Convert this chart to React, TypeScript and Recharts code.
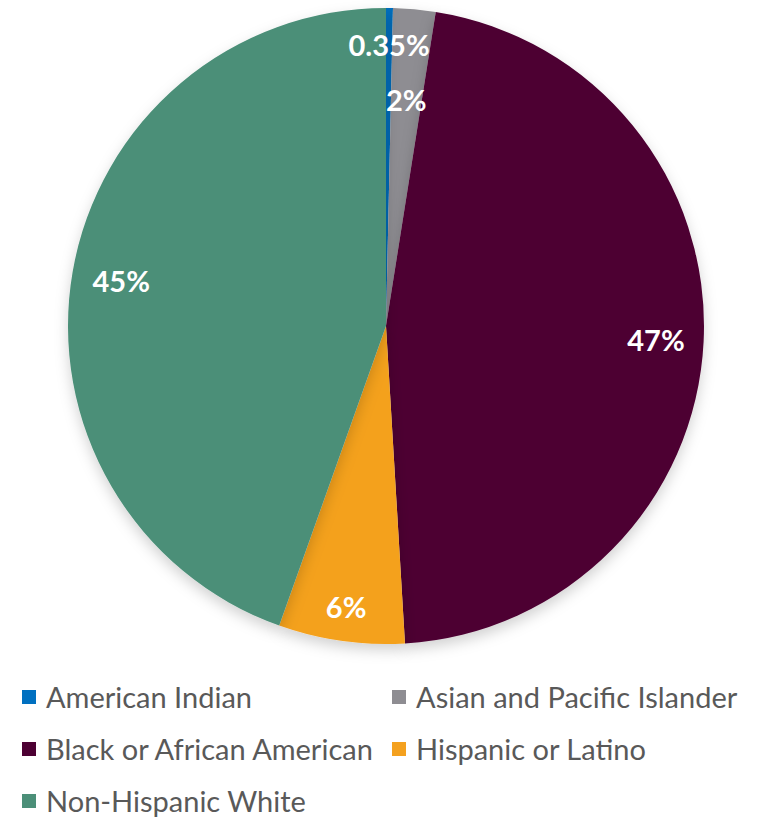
import { PieChart, Pie, Cell, Legend } from 'recharts'

const NAMES = [
  'American Indian',
  'Asian and Pacific Islander',
  'Black or African American',
  'Hispanic or Latino',
  'Non-Hispanic White',
]
const VALUES = [0.35, 2.15, 46.55, 6.4, 44.55]
const LABELS = ['0.35%', '2%', '47%', '6%', '45%']
const COLORS = ['#0070C0', '#8E8D92', '#4D0033', '#F4A11F', '#4B8F78']
// label distance from centre, as a share of the radius (Excel best fit)
const LABEL_RADII = [0.885, 0.715, 0.85, 0.89, 0.845]

const data = NAMES.map((name, i) => ({ name, value: VALUES[i] }))

const FONT = 'Lato, "Open Sans", sans-serif'
const RAD = Math.PI / 180

function renderLabel(props: any) {
  const { cx, cy, midAngle, outerRadius, index } = props
  const r = outerRadius * LABEL_RADII[index]
  const x = cx + r * Math.cos(-midAngle * RAD)
  const y = cy + r * Math.sin(-midAngle * RAD)
  return (
    <text
      x={x}
      y={y}
      fill="#fff"
      fontFamily={FONT}
      fontWeight={700}
      fontSize={29}
      textAnchor="middle"
      dominantBaseline="central"
    >
      {LABELS[index]}
    </text>
  )
}

function LegendContent() {
  return (
    <div
      style={{
        display: 'grid',
        gridTemplateColumns: '370px 370px',
        rowGap: 17,
        fontFamily: FONT,
        fontSize: 29,
        lineHeight: '34px',
        color: '#595959',
      }}
    >
      {NAMES.map((name, i) => (
        <div key={name} style={{ display: 'flex', alignItems: 'center', height: 35 }}>
          <span
            style={{
              display: 'inline-block',
              width: 14,
              height: 14,
              background: COLORS[i],
              marginRight: 10,
            }}
          />
          <span style={{ whiteSpace: 'nowrap' }}>{name}</span>
        </div>
      ))}
    </div>
  )
}

export default function App() {
  return (
    <div style={{ position: 'absolute', left: 0, top: 0, width: 761, height: 819, background: '#fff' }}>
      <PieChart width={761} height={819} margin={{ top: 0, right: 0, bottom: 0, left: 0 }}>
        <defs>
          <filter id="pieShadow" x="-10%" y="-10%" width="120%" height="125%">
            <feDropShadow dx="0" dy="6" stdDeviation="7" floodColor="#000" floodOpacity="0.18" />
          </filter>
        </defs>
        <Pie
          data={data}
          dataKey="value"
          nameKey="name"
          cx={386}
          cy={326}
          outerRadius={318}
          startAngle={90}
          endAngle={-270}
          stroke="none"
          label={renderLabel}
          labelLine={false}
          isAnimationActive={false}
          style={{ filter: 'url(#pieShadow)' }}
        >
          {data.map((d, i) => (
            <Cell key={d.name} fill={COLORS[i]} />
          ))}
        </Pie>
        <Legend
          content={<LegendContent />}
          wrapperStyle={{ position: 'absolute', left: 22, top: 679, width: 740 }}
        />
      </PieChart>
    </div>
  )
}
